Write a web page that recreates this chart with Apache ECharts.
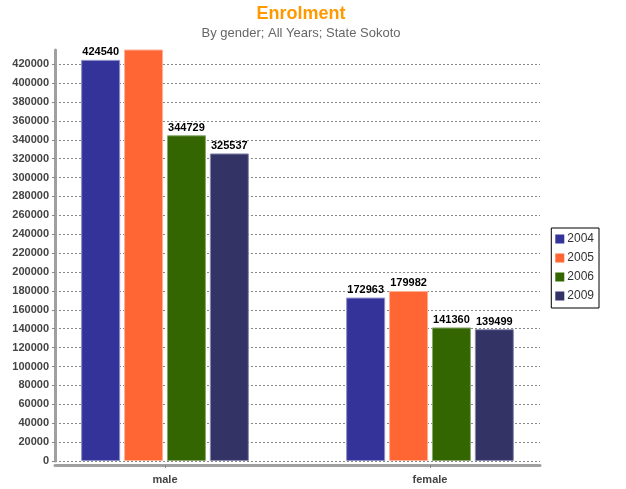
<!DOCTYPE html>
<html>
<head>
<meta charset="utf-8">
<script src="https://cdn.jsdelivr.net/npm/echarts@6/dist/echarts.min.js"></script>
<style>
  html, body { margin: 0; padding: 0; background: #fff; }
  #enrolmentChart { width: 626px; height: 489px; }
</style>
</head>
<body>
<div id="enrolmentChart"></div>
<script>
// data
var categories = ['male', 'female'];
var years = ['2004', '2005', '2006', '2009'];
var values2004 = [424540, 172963];
var values2005 = [452000, 179982]; // male 2005 runs off the top, value estimated
var values2006 = [344729, 141360];
var values2009 = [325537, 139499];
var colors = ['#333399', '#ff6633', '#336600', '#333366'];
var borders = ['#8f8fc8', '#ffb095', '#8aa86f', '#8c8cb0'];

var yMax = 435000;
var font = 'Liberation Sans, Arial, sans-serif';

var myChart = echarts.init(document.getElementById('enrolmentChart'));

function barSeries(i, values) {
    return {
        name: years[i],
        type: 'bar',
        xAxisIndex: 1,
        yAxisIndex: 1,
        barWidth: 39,
        barGap: '10%',
        itemStyle: { color: colors[i], borderColor: borders[i], borderWidth: 1 },
        label: {
            show: true,
            position: 'top',
            distance: 2,
            color: '#000',
            fontFamily: font,
            fontWeight: 'bold',
            fontSize: 11,
            formatter: function (p) { return p.value > yMax ? '' : p.value; }
        },
        data: values
    };
}

var option = {
    animation: false,
    color: colors,
    textStyle: { fontFamily: font },
    title: {
        text: 'Enrolment',
        subtext: 'By gender; All Years; State Sokoto',
        left: 301,
        top: 5,
        padding: 0,
        itemGap: 4,
        textAlign: 'center',
        textStyle: { color: '#ff9900', fontSize: 18, fontWeight: 'bold', fontFamily: font },
        subtextStyle: { color: '#666', fontSize: 13, fontFamily: font }
    },
    legend: {
        orient: 'vertical',
        right: 27,
        top: 228,
        padding: [5, 5, 6, 4],
        itemWidth: 9,
        itemHeight: 9,
        itemGap: 7,
        icon: 'rect',
        itemStyle: { borderWidth: 0 },
        borderColor: '#000',
        borderWidth: 1,
        borderRadius: 0,
        textStyle: { color: '#333', fontSize: 12, fontFamily: font, padding: [0, 0, 0, -2] },
        data: years
    },
    grid: [
        { left: 55, right: 86, top: 50, bottom: 28 },
        { left: 32.5, right: 63.5, top: 50, bottom: 28 }
    ],
    xAxis: [
        {
            type: 'category',
            gridIndex: 0,
            data: categories,
            offset: 4,
            axisLine: { onZero: false, lineStyle: { color: '#a0a0a0', width: 3 } },
            axisTick: { show: false },
            axisLabel: { show: false },
            splitLine: { show: false }
        },
        {
            type: 'category',
            gridIndex: 1,
            data: categories,
            offset: 4,
            axisLine: { show: false, onZero: false },
            axisTick: { show: true, alignWithLabel: true, length: 3, lineStyle: { color: '#888' } },
            axisLabel: { color: '#444', fontWeight: 'bold', fontSize: 11, fontFamily: font, margin: 9 }
        }
    ],
    yAxis: [
        {
            type: 'value',
            gridIndex: 0,
            min: 0,
            max: yMax,
            interval: 20000,
            axisLine: { show: true, lineStyle: { color: '#a0a0a0', width: 3 } },
            axisTick: { show: true, length: 3, lineStyle: { color: '#888' } },
            axisLabel: {
                color: '#444',
                fontWeight: 'bold',
                fontSize: 11,
                fontFamily: font,
                margin: 6,
                showMaxLabel: false,
                formatter: function (v) { return String(v); }
            },
            splitLine: { show: true, showMaxLine: false, lineStyle: { color: '#888', type: [2, 2], width: 1 } }
        },
        {
            type: 'value',
            gridIndex: 1,
            min: 0,
            max: yMax,
            show: false,
            splitLine: { show: false }
        }
    ],
    series: [
        barSeries(0, values2004),
        barSeries(1, values2005),
        barSeries(2, values2006),
        barSeries(3, values2009)
    ]
};

myChart.setOption(option);
</script>
</body>
</html>
